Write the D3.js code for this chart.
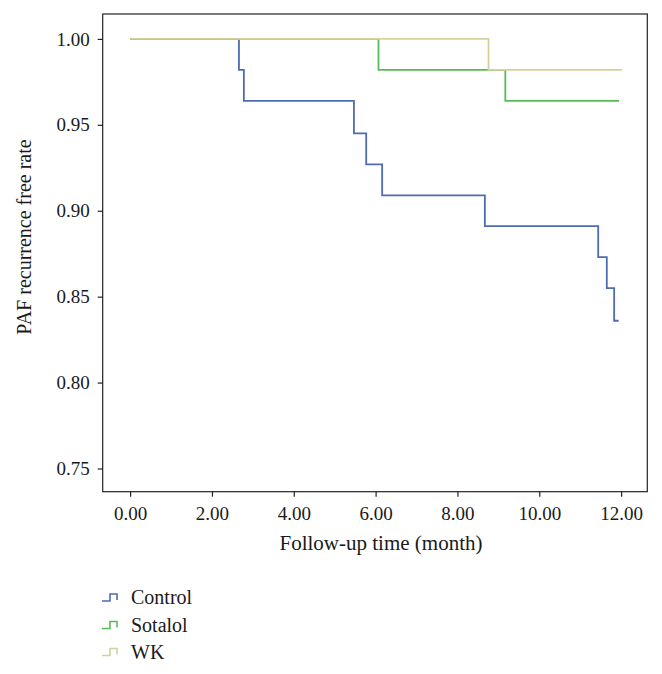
<!DOCTYPE html>
<html>
<head>
<meta charset="utf-8">
<script src="https://cdn.jsdelivr.net/npm/d3@7/dist/d3.min.js"></script>
<style>
  html, body { margin: 0; padding: 0; background: #fff; }
  svg { display: block; }
  text { font-family: "Liberation Serif", "DejaVu Serif", serif; fill: #1a1a1a; }
</style>
</head>
<body>
<svg id="chart" width="662" height="674"></svg>
<script>
// ---- data ----
const seriesNames = ["Control", "Sotalol", "WK"];
const controlTimes = [0, 2.66, 2.78, 5.47, 5.77, 6.16, 8.67, 11.44, 11.65, 11.83];
const controlValues = [1.000, 0.982, 0.964, 0.945, 0.927, 0.909, 0.891, 0.873, 0.855, 0.836];
const controlEnd = 11.94;
const sotalolTimes = [0, 6.07, 9.17];
const sotalolValues = [1.000, 0.982, 0.964];
const sotalolEnd = 11.95;
const wkTimes = [0, 8.76];
const wkValues = [1.000, 0.982];
const wkEnd = 12.02;
const xTicks = [0, 2, 4, 6, 8, 10, 12];
const yTicks = [0.75, 0.80, 0.85, 0.90, 0.95, 1.00];
const colors = ["#4e6cb3", "#57bb57", "#d3d29d"];

(function () {
// ---- layout ----
const svg = d3.select("#chart");
const pLeft = 102.7, pRight = 647.3, pTop = 14, pBottom = 491.7;
const x = d3.scaleLinear().domain([-0.67, 12.64]).range([pLeft, pRight]);
const y = d3.scaleLinear().domain([0.7365, 1.0145]).range([pBottom, pTop]);

function stepPoints(times, values, end) {
  const pts = times.map((t, i) => [t, values[i]]);
  pts.push([end, values[values.length - 1]]);
  return pts;
}
const series = [
  stepPoints(controlTimes, controlValues, controlEnd),
  stepPoints(sotalolTimes, sotalolValues, sotalolEnd),
  stepPoints(wkTimes, wkValues, wkEnd)
];

const line = d3.line().x(d => x(d[0])).y(d => y(d[1])).curve(d3.curveStepAfter);

svg.append("g").selectAll("path")
  .data(series)
  .join("path")
  .attr("d", line)
  .attr("fill", "none")
  .attr("stroke", (d, i) => colors[i])
  .attr("stroke-width", 1.8);

// frame
svg.append("rect")
  .attr("x", pLeft).attr("y", pTop)
  .attr("width", pRight - pLeft).attr("height", pBottom - pTop)
  .attr("fill", "none").attr("stroke", "#222").attr("stroke-width", 1.2);

// axes
const xAxis = d3.axisBottom(x).tickValues(xTicks).tickFormat(d3.format(".2f"))
  .tickSizeInner(5).tickSizeOuter(0).tickPadding(10);
const gx = svg.append("g").attr("transform", `translate(0,${pBottom})`).call(xAxis);
gx.select(".domain").remove();
gx.selectAll(".tick line").attr("stroke", "#222").attr("stroke-width", 1.2);
gx.selectAll(".tick text").attr("font-size", 19).attr("fill", "#1a1a1a")
  .attr("font-family", "Liberation Serif, serif");

const yAxis = d3.axisLeft(y).tickValues(yTicks).tickFormat(d3.format(".2f"))
  .tickSizeInner(5).tickSizeOuter(0).tickPadding(8);
const gy = svg.append("g").attr("transform", `translate(${pLeft},0)`).call(yAxis);
gy.select(".domain").remove();
gy.selectAll(".tick line").attr("stroke", "#222").attr("stroke-width", 1.2);
gy.selectAll(".tick text").attr("font-size", 19).attr("fill", "#1a1a1a")
  .attr("font-family", "Liberation Serif, serif");

// axis titles
svg.append("text")
  .attr("x", (pLeft + pRight) / 2 + 6).attr("y", 550)
  .attr("text-anchor", "middle").attr("font-size", 21)
  .text("Follow-up time (month)");

svg.append("text")
  .attr("transform", "translate(31,237) rotate(-90)")
  .attr("text-anchor", "middle").attr("font-size", 20)
  .text("PAF recurrence free rate");

// legend
const legendY = [597.5, 625, 652];
const lg = svg.append("g").selectAll("g")
  .data(seriesNames)
  .join("g")
  .attr("transform", (d, i) => `translate(0,${legendY[i]})`);
lg.append("path")
  .attr("d", "M102,3.5 H110 V-3.5 H117 V2.5")
  .attr("fill", "none")
  .attr("stroke", (d, i) => colors[i])
  .attr("stroke-width", 1.6);
lg.append("text")
  .attr("x", 131).attr("y", 6.5)
  .attr("font-size", 20)
  .text(d => d);
})();
</script>
</body>
</html>
